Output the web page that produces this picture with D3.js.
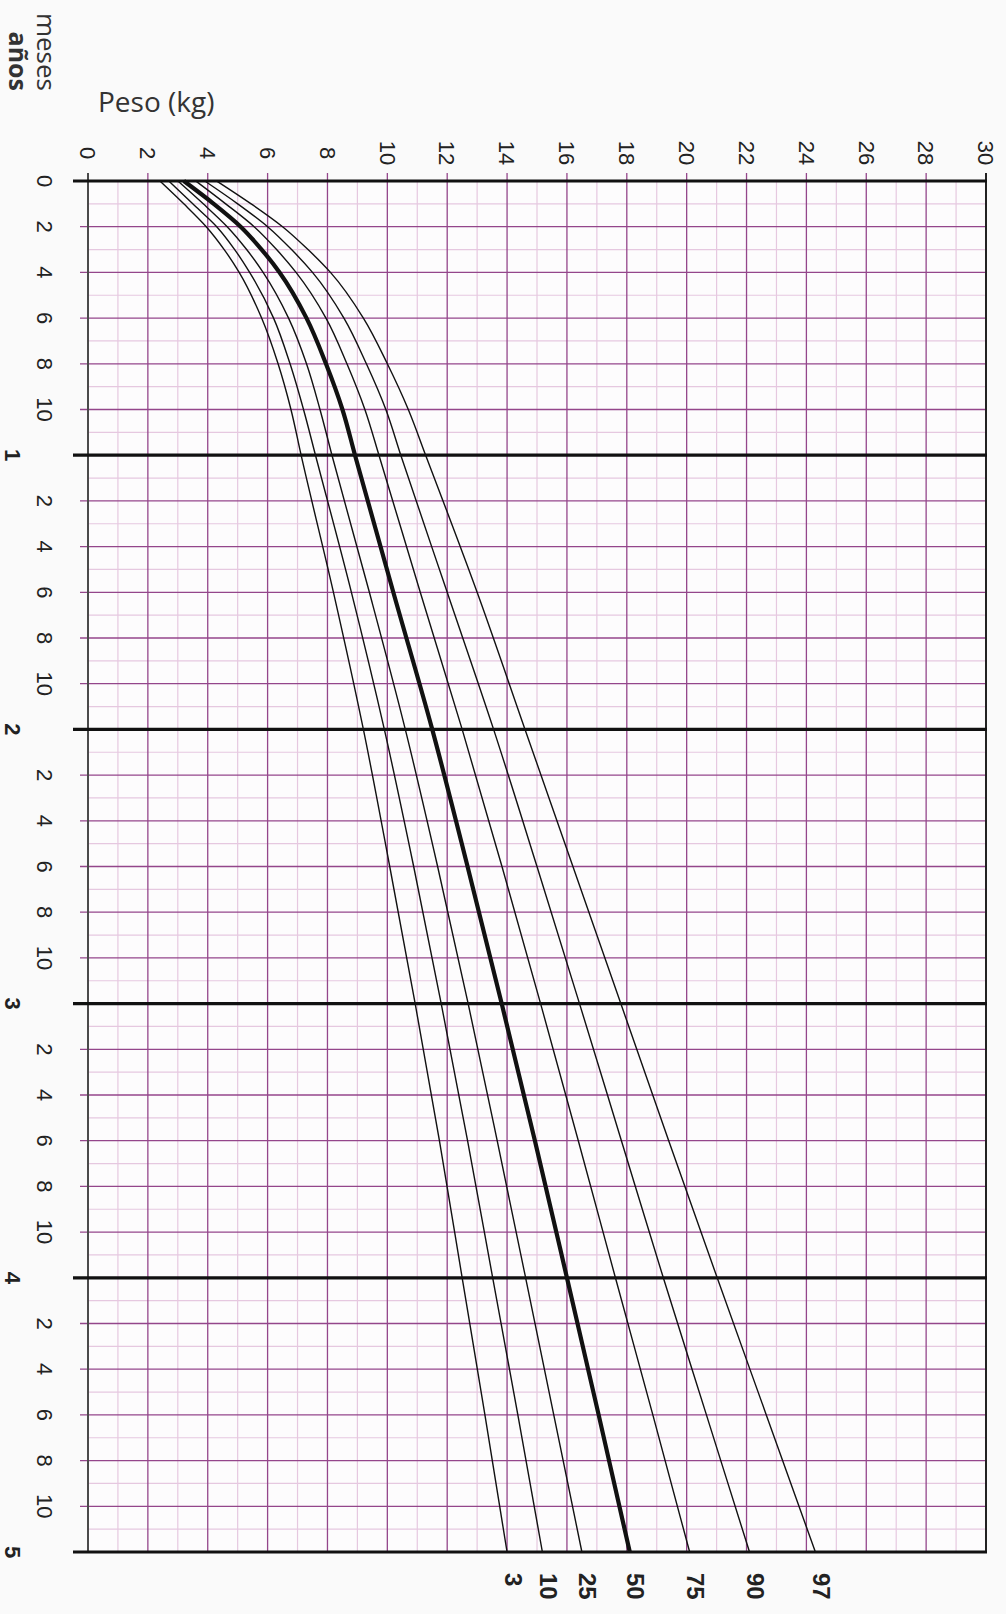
<!DOCTYPE html>
<html>
<head>
    <title>Peso para la edad</title>
    <script src="https://d3js.org/d3.v7.min.js"></script>
    <style>
        body {
            margin: 0;
            padding: 0;
            background-color: #fafafa;
        }
        .num { font-family: "Liberation Sans", Arial, sans-serif; fill: #222; }
        .word { font-family: "Open Sans", "Noto Sans", sans-serif; fill: #333; }
    </style>
</head>
<body>
<div id="chart"></div>
<script>

    var months = [0, 1, 2, 3, 4, 6, 8, 10, 12, 18, 24, 30, 36, 42, 48, 54, 60];

    // weight (kg) per percentile
    var p3  = [2.4, 3.2,  3.95, 4.55, 5.05, 5.8,  6.35, 6.78, 7.12, 8.2,  9.2,  10.08, 10.93, 11.74, 12.5,  13.26, 14.0];
    var p10 = [2.7, 3.5,  4.3,  4.9,  5.4,  6.2,  6.75, 7.2,  7.6,  8.8,  9.9,  10.88, 11.8,  12.68, 13.52, 14.36, 15.18];
    var p25 = [3.0, 3.85, 4.65, 5.3,  5.85, 6.7,  7.3,  7.75, 8.15, 9.4,  10.6, 11.68, 12.7,  13.67, 14.62, 15.56, 16.5];
    var p50 = [3.2, 4.2,  5.1,  5.8,  6.4,  7.3,  7.95, 8.5,  8.92, 10.2, 11.5, 12.68, 13.82, 14.93, 16.0,  17.06, 18.1];
    var p75 = [3.6, 4.6,  5.55, 6.3,  6.95, 7.95, 8.65, 9.25, 9.72, 11.1, 12.5, 13.83, 15.12, 16.38, 17.62, 18.87, 20.1];
    var p90 = [3.9, 5.0,  6.0,  6.8,  7.5,  8.55, 9.3,  9.95, 10.45, 12.0, 13.55, 15.0, 16.42, 17.82, 19.22, 20.66, 22.1];
    var p97 = [4.3, 5.45, 6.5,  7.35, 8.1,  9.2,  10.0, 10.7, 11.28, 13.0, 14.6, 16.2,  17.8,  19.4,  21.02, 22.66, 24.3];

    var percentileNames = ["3", "10", "25", "50", "75", "90", "97"];
    var seriesValues = [p3, p10, p25, p50, p75, p90, p97];

    // axis ticks
    var weightTicks = d3.range(0, 31, 2);          // 0..30 kg
    var monthTickLabels = ["2", "4", "6", "8", "10"];
    var yearLabels = ["1", "2", "3", "4", "5"];

    var width = 1006,
        height = 1614;

    var svg = d3.select("#chart").append("svg")
        .attr("width", width)
        .attr("height", height);

    var x = d3.scaleLinear().domain([0, 30]).range([88, 986]);
    var y = d3.scaleLinear().domain([0, 60]).range([181, 1552]);

    var minorColor = "#e6c8e0",
        majorColor = "#94468b";

    // background of the grid
    svg.append("rect")
        .attr("x", x(0)).attr("y", y(0))
        .attr("width", x(30) - x(0)).attr("height", y(60) - y(0))
        .attr("fill", "#fdfcfd");

    var grid = svg.append("g");

    // vertical lines, every kg
    grid.selectAll(".vminor")
        .data(d3.range(1, 30, 2))
        .enter().append("line")
        .attr("x1", d => x(d)).attr("x2", d => x(d))
        .attr("y1", y(0)).attr("y2", y(60))
        .attr("stroke", minorColor).attr("stroke-width", 1.2);

    // horizontal lines, every month
    grid.selectAll(".hminor")
        .data(d3.range(1, 60).filter(m => m % 2 == 1))
        .enter().append("line")
        .attr("x1", x(0)).attr("x2", x(30))
        .attr("y1", d => y(d)).attr("y2", d => y(d))
        .attr("stroke", minorColor).attr("stroke-width", 1.2);

    grid.selectAll(".vmajor")
        .data(weightTicks.filter(d => d > 0 && d < 30))
        .enter().append("line")
        .attr("x1", d => x(d)).attr("x2", d => x(d))
        .attr("y1", y(0) - 8).attr("y2", y(60))
        .attr("stroke", majorColor).attr("stroke-width", 1.3);

    grid.selectAll(".hmajor")
        .data(d3.range(2, 60, 2).filter(m => m % 12 != 0))
        .enter().append("line")
        .attr("x1", x(0) - 8).attr("x2", x(30))
        .attr("y1", d => y(d)).attr("y2", d => y(d))
        .attr("stroke", majorColor).attr("stroke-width", 1.3);

    // left / right borders
    grid.append("line")
        .attr("x1", x(0)).attr("x2", x(0))
        .attr("y1", y(0) - 8).attr("y2", y(60))
        .attr("stroke", "#4a4a4a").attr("stroke-width", 2);
    grid.append("line")
        .attr("x1", x(30)).attr("x2", x(30))
        .attr("y1", y(0) - 8).attr("y2", y(60))
        .attr("stroke", "#222").attr("stroke-width", 2);

    // year lines
    grid.selectAll(".year")
        .data(d3.range(0, 61, 12))
        .enter().append("line")
        .attr("x1", x(0) - 15).attr("x2", x(30) + 1)
        .attr("y1", d => y(d)).attr("y2", d => y(d))
        .attr("stroke", "#111").attr("stroke-width", 3.2);

    // percentile curves
    var line = d3.line()
        .x(d => x(d[1]))
        .y(d => y(d[0]))
        .curve(d3.curveMonotoneY);

    seriesValues.forEach(function(vals, i) {
        var pts = months.map((m, j) => [m, vals[j]]);
        svg.append("path")
            .attr("d", line(pts))
            .attr("fill", "none")
            .attr("stroke", "#111")
            .attr("stroke-width", percentileNames[i] == "50" ? 4.2 : 1.4);

        // label under the end of each curve
        svg.append("text")
            .attr("class", "num")
            .attr("transform", "translate(" + (x(vals[vals.length - 1]) + 6) + "," + (y(60) + 21) + ") rotate(90)")
            .attr("dy", "0.35em")
            .style("font-size", "24px")
            .style("font-weight", "bold")
            .text(percentileNames[i]);
    });

    // weight labels
    svg.selectAll(".wlab")
        .data(weightTicks)
        .enter().append("text")
        .attr("class", "num")
        .attr("transform", d => "translate(" + x(d) + ",153) rotate(90)")
        .attr("text-anchor", "middle")
        .attr("dy", "0.35em")
        .style("font-size", "22px")
        .text(d => d);

    // month labels
    var monthRows = [{m: 0, t: "0"}];
    for (var yr = 0; yr < 5; yr++) {
        monthTickLabels.forEach(function(t) {
            monthRows.push({m: yr * 12 + Number(t), t: t});
        });
    }
    svg.selectAll(".mlab")
        .data(monthRows)
        .enter().append("text")
        .attr("class", "num")
        .attr("transform", d => "translate(45," + y(d.m) + ") rotate(90)")
        .attr("text-anchor", "middle")
        .attr("dy", "0.35em")
        .style("font-size", "22px")
        .text(d => d.t);

    svg.selectAll(".ylab")
        .data(yearLabels)
        .enter().append("text")
        .attr("class", "num")
        .attr("transform", d => "translate(13," + y(Number(d) * 12) + ") rotate(90)")
        .attr("text-anchor", "middle")
        .attr("dy", "0.35em")
        .style("font-size", "22px")
        .style("font-weight", "bold")
        .text(d => d);

    // titles
    svg.append("text")
        .attr("class", "word")
        .attr("x", 98).attr("y", 112)
        .style("font-size", "28px")
        .text("Peso (kg)");

    svg.append("text")
        .attr("class", "word")
        .attr("transform", "translate(46,91) rotate(90)")
        .attr("text-anchor", "end")
        .attr("dy", "0.35em")
        .style("font-size", "26px")
        .text("meses");

    svg.append("text")
        .attr("class", "word")
        .attr("transform", "translate(18,91) rotate(90)")
        .attr("text-anchor", "end")
        .attr("dy", "0.35em")
        .style("font-size", "25px")
        .style("font-weight", "bold")
        .text("años");

</script>
</body>
</html>
